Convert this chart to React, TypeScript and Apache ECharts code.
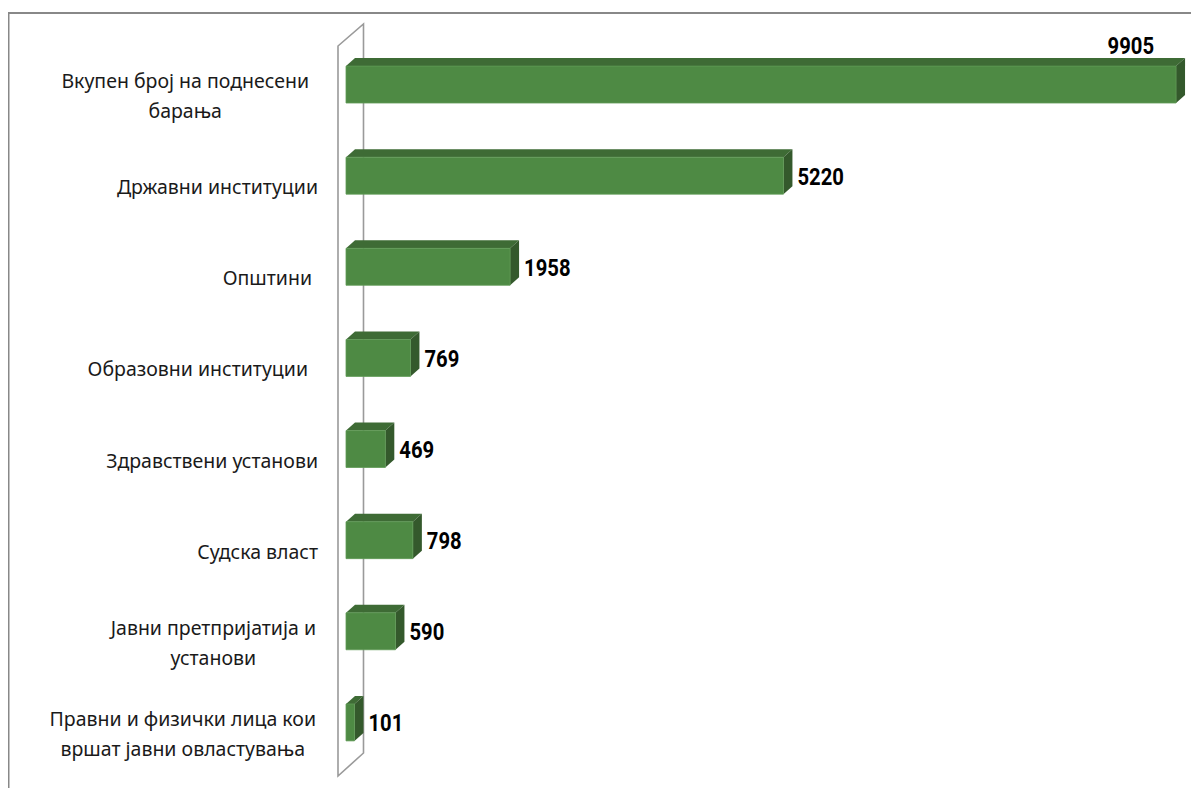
import React, { useEffect, useRef } from "react";
import * as echarts from "echarts";

const categories = [
  "Вкупен број на поднесени\nбарања",
  "Државни институции",
  "Општини",
  "Образовни институции",
  "Здравствени установи",
  "Судска власт",
  "Јавни претпријатија и\nустанови",
  "Правни и физички лица кои\nвршат јавни овластувања",
];
const values = [9905, 5220, 1958, 769, 469, 798, 590, 101];
const labelRightPad = [9, 0, 6, 10, 0, 0, 2, 2];

const FRONT = "#4e8a44";
const TOP = "#3e6b35";
const SIDE = "#34592c";
const DX = 9;
const DY = -8;
const VALUE_FONT = "bold 23px Roboto, 'Noto Sans', sans-serif";

export default function App() {
  const ref = useRef<HTMLDivElement>(null);
  useEffect(() => {
    if (!ref.current) return;
    const chart = echarts.init(ref.current, null, { renderer: "svg" });
    const rich: Record<string, any> = {};
    labelRightPad.forEach((p, i) => {
      rich["c" + i] = {
        align: "center",
        fontFamily: "'Noto Sans', sans-serif",
        fontSize: 19.5,
        lineHeight: 30,
        color: "#1a1a1a",
        padding: [0, p, 0, 0],
      };
    });
    chart.setOption({
      animation: false,
      grid: { left: 338, right: 7, top: 31, bottom: 20, containLabel: false },
      xAxis: { type: "value", min: 0, max: 10000, show: false },
      yAxis: {
        type: "category",
        inverse: true,
        data: categories,
        axisLine: { show: false },
        axisTick: { show: false },
        splitLine: { show: false },
        axisLabel: {
          margin: 28,
          padding: [22, 0, 0, 0],
          formatter: (val: string, idx: number) =>
            val
              .split("\n")
              .map((l) => `{c${idx}|${l}}`)
              .join("\n"),
          rich,
        },
      },
      graphic: [
        {
          type: "rect",
          shape: { x: 0.5, y: 5, width: 4000, height: 4000 },
          style: { fill: "none", stroke: "#888888", lineWidth: 2 },
          silent: true,
        },
      ],
      series: [
        {
          type: "custom",
          silent: true,
          data: [[0, 0]],
          encode: { x: 0, y: 1 },
          renderItem: (params: any) => {
            const cs = params.coordSys;
            const x0 = cs.x;
            const xf = x0 - 8;
            const xb = x0 + 17.5;
            const yfT = cs.y + 7;
            const yfB = cs.y + cs.height + 8;
            return {
              type: "polygon",
              shape: {
                points: [
                  [xf, yfT],
                  [xb, yfT - 22],
                  [xb, yfB - 23],
                  [xf, yfB],
                ],
              },
              style: { fill: "none", stroke: "#9a9a9a", lineWidth: 1.6 },
            };
          },
        },
        {
          type: "custom",
          silent: true,
          data: values.map((v, i) => [v, i]),
          encode: { x: 0, y: 1 },
          renderItem: (params: any, api: any) => {
            const v = api.value(0);
            const c = api.value(1);
            const p0 = api.coord([0, c]);
            const p1 = api.coord([v, c]);
            const h = api.size([0, 1])[1] * 0.405;
            const x0 = p0[0];
            const x1 = p1[0];
            const yT = p0[1] - h / 2;
            const yB = p0[1] + h / 2;
            const cs = params.coordSys;
            const overflow = x1 + DX + 60 > cs.x + cs.width;
            const label = {
              type: "text",
              x: overflow ? x1 - 22 : x1 + DX + 5,
              y: overflow ? yT + DY - 12 : p0[1] + 1,
              scaleX: 0.88,
              style: {
                x: 0,
                y: 0,
                text: String(v),
                textAlign: overflow ? "right" : "left",
                textVerticalAlign: "middle",
                fill: "#000",
                font: VALUE_FONT,
              },
            };
            return {
              type: "group",
              children: [
                {
                  type: "polygon",
                  shape: {
                    points: [
                      [x0, yT],
                      [x0 + DX, yT + DY],
                      [x1 + DX, yT + DY],
                      [x1, yT],
                    ],
                  },
                  style: { fill: TOP },
                },
                {
                  type: "polygon",
                  shape: {
                    points: [
                      [x1, yT],
                      [x1 + DX, yT + DY],
                      [x1 + DX, yB + DY],
                      [x1, yB],
                    ],
                  },
                  style: { fill: SIDE },
                },
                {
                  type: "rect",
                  shape: { x: x0, y: yT, width: x1 - x0, height: h },
                  style: { fill: FRONT, stroke: "#5f9a55", lineWidth: 0.8 },
                },
                label,
              ],
            };
          },
        },
      ],
    });
    return () => chart.dispose();
  }, []);
  return <div ref={ref} style={{ width: 1183, height: 780 }} />;
}
